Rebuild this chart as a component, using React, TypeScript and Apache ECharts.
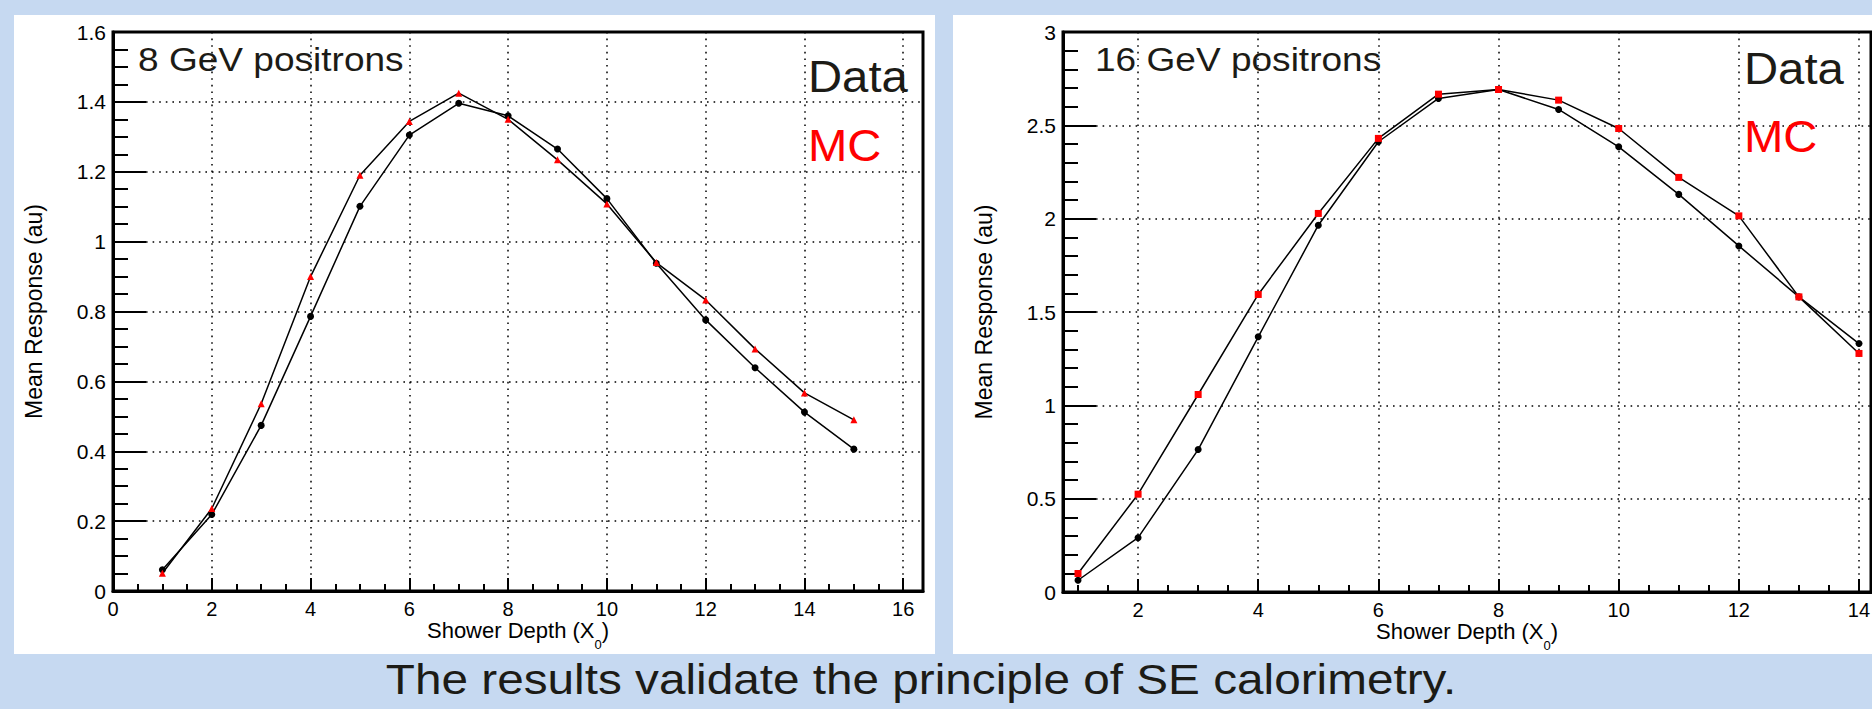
import React, { useEffect, useRef } from 'react';
import * as echarts from 'echarts';

const FONT = '"Liberation Sans", Arial, Helvetica, sans-serif';
const INK = '#1c1b16';

// ---- data ----
const depth8 = [1, 2, 3, 4, 5, 6, 7, 8, 9, 10, 11, 12, 13, 14, 15];
const data8 = [0.061, 0.219, 0.474, 0.786, 1.101, 1.305, 1.396, 1.36, 1.265, 1.123, 0.938, 0.776, 0.639, 0.512, 0.406];
const mc8 = [0.051, 0.236, 0.536, 0.9, 1.19, 1.344, 1.425, 1.35, 1.234, 1.108, 0.94, 0.833, 0.693, 0.567, 0.49];

const depth16 = [1, 2, 3, 4, 5, 6, 7, 8, 9, 10, 11, 12, 13, 14];
const data16 = [0.063, 0.291, 0.763, 1.367, 1.965, 2.412, 2.644, 2.692, 2.585, 2.385, 2.13, 1.854, 1.581, 1.331];
const mc16 = [0.099, 0.524, 1.058, 1.594, 2.028, 2.43, 2.667, 2.692, 2.635, 2.483, 2.221, 2.015, 1.581, 1.278];

// ---- axis ranges / steps ----
const xRange8 = [0, 16.4];
const yRange8 = [0, 1.6];
const yStep8 = 0.2;
const yMinorSplit8 = 4;
const xRange16 = [0.75, 14.2];
const yRange16 = [0, 3];
const yStep16 = 0.5;
const yMinorSplit16 = 5;
const X_MAJOR = 2;
const X_MINOR = 0.5;

// ---- texts ----
const panelTitles = ['8 GeV positrons', '16 GeV positrons'];
const legendData = 'Data';
const legendMC = 'MC';
const X_TITLE = 'Shower Depth (X{sub|0})';
const Y_TITLE = 'Mean Response (au)';
const CAPTION = 'The results validate the principle of SE calorimetry.';

function buildOption(): any {
  const labelStyle = { fontFamily: FONT, fontSize: 20, color: '#000', lineHeight: 14 };
  const tickLine = { color: '#000', width: 2 };
  const gridLine = { color: '#000', width: 1.5, type: [1.6, 5] };

  const isMult = (v: number, s: number) => Math.abs(v / s - Math.round(v / s)) < 1e-9;

  const xMain = (gridIndex: number, range: number[]) => ({
    type: 'value',
    gridIndex,
    position: 'bottom',
    min: range[0],
    max: range[1],
    splitNumber: Math.round((range[1] - range[0]) / X_MAJOR),
    minInterval: X_MAJOR,
    maxInterval: X_MAJOR,
    axisLine: { show: true, onZero: false, lineStyle: { color: '#000', width: 3 } },
    axisTick: { show: true, inside: true, length: 13, lineStyle: tickLine },
    axisLabel: {
      ...labelStyle,
      margin: 10.5,
      showMinLabel: isMult(range[0], X_MAJOR),
      showMaxLabel: isMult(range[1], X_MAJOR),
    },
    splitLine: { show: true, lineStyle: gridLine },
    name: X_TITLE,
    nameLocation: 'middle',
    nameGap: 30,
    nameMoveOverlap: false,
    nameTextStyle: {
      fontFamily: FONT,
      fontSize: 22,
      color: '#000',
      lineHeight: 18,
      rich: { sub: { fontFamily: FONT, fontSize: 13, color: '#000', padding: [28, 0, 0, 0] } },
    },
  });

  const xMinor = (gridIndex: number, range: number[]) => ({
    type: 'value',
    gridIndex,
    position: 'bottom',
    min: range[0],
    max: range[1],
    splitNumber: Math.round((range[1] - range[0]) / X_MINOR),
    minInterval: X_MINOR,
    maxInterval: X_MINOR,
    axisLine: { show: false, onZero: false },
    axisTick: { show: true, inside: true, length: 7, lineStyle: tickLine },
    axisLabel: { show: false },
    splitLine: { show: false },
  });

  const yAx = (gridIndex: number, range: number[], step: number, minorSplit: number) => ({
    type: 'value',
    gridIndex,
    position: 'left',
    min: range[0],
    max: range[1],
    interval: step,
    axisLine: { show: true, onZero: false, lineStyle: { color: '#000', width: 3 } },
    axisTick: { show: true, inside: true, length: 33, lineStyle: tickLine },
    minorTick: { show: true, splitNumber: minorSplit, length: 15, lineStyle: tickLine },
    axisLabel: { ...labelStyle, fontSize: 21, margin: 7 },
    splitLine: { show: true, lineStyle: gridLine },
    name: Y_TITLE,
    nameLocation: 'middle',
    nameRotate: 90,
    nameGap: 68,
    nameMoveOverlap: false,
    nameTextStyle: { fontFamily: FONT, fontSize: 23, color: '#000' },
  });

  const pairs = (xs: number[], ys: number[]) => xs.map((x, i) => [x, ys[i]]);

  const lineSeries = (name: string, xAxisIndex: number, yAxisIndex: number, pts: number[][], symbol: string, size: number, color: string, z: number) => ({
    type: 'line',
    name,
    xAxisIndex,
    yAxisIndex,
    data: pts,
    symbol,
    symbolSize: size,
    showSymbol: true,
    itemStyle: { color },
    lineStyle: { color: '#000', width: 1.5 },
    emphasis: { disabled: true },
    z,
  });

  const txt = (text: string, x: number, y: number, size: number, color: string, scaleX: number, align = 'left') => ({
    type: 'text',
    x,
    y,
    scaleX,
    z: 100,
    silent: true,
    style: {
      text,
      fontFamily: FONT,
      fontSize: size,
      fill: color,
      align,
      verticalAlign: 'middle',
    },
  });

  return {
    animation: false,
    backgroundColor: '#c6d9f1',
    grid: [
      { left: 113, top: 32, width: 810, height: 559, show: true, borderColor: '#000', borderWidth: 3, backgroundColor: 'transparent', containLabel: false, outerBoundsMode: 'none' },
      { left: 1063, top: 32, width: 808, height: 560, show: true, borderColor: '#000', borderWidth: 3, backgroundColor: 'transparent', containLabel: false, outerBoundsMode: 'none' },
    ],
    xAxis: [xMain(0, xRange8), xMinor(0, xRange8), xMain(1, xRange16), xMinor(1, xRange16)],
    yAxis: [yAx(0, yRange8, yStep8, yMinorSplit8), yAx(1, yRange16, yStep16, yMinorSplit16)],
    series: [
      lineSeries('Data 8 GeV', 0, 0, pairs(depth8, data8), 'circle', 7, '#000', 3),
      lineSeries('MC 8 GeV', 0, 0, pairs(depth8, mc8), 'triangle', 7, '#ff0000', 4),
      lineSeries('Data 16 GeV', 2, 1, pairs(depth16, data16), 'circle', 7, '#000', 3),
      lineSeries('MC 16 GeV', 2, 1, pairs(depth16, mc16), 'rect', 7, '#ff0000', 4),
    ],
    graphic: [
      { type: 'rect', z: -10, silent: true, shape: { x: 14, y: 15, width: 921, height: 639 }, style: { fill: '#ffffff' } },
      { type: 'rect', z: -10, silent: true, shape: { x: 953, y: 15, width: 919, height: 639 }, style: { fill: '#ffffff' } },
      txt(panelTitles[0], 138, 60, 34, INK, 1.09),
      txt(panelTitles[1], 1095, 60, 34, INK, 1.09),
      txt(legendData, 808, 76, 45, INK, 1.05),
      txt(legendMC, 808, 145, 45, '#ff0000', 1.05),
      txt(legendData, 1744, 68, 45, INK, 1.05),
      txt(legendMC, 1744, 136, 45, '#ff0000', 1.05),
      txt(CAPTION, 921, 679, 43, INK, 1.11, 'center'),
    ],
  };
}

export default function App() {
  const ref = useRef<HTMLDivElement>(null);
  useEffect(() => {
    if (!ref.current) return;
    const chart = echarts.init(ref.current, undefined, { renderer: 'svg' });
    chart.setOption(buildOption());
    return () => chart.dispose();
  }, []);
  return (
    <div
      ref={ref}
      style={{ position: 'absolute', left: 0, top: 0, width: 1872, height: 709 }}
    />
  );
}
